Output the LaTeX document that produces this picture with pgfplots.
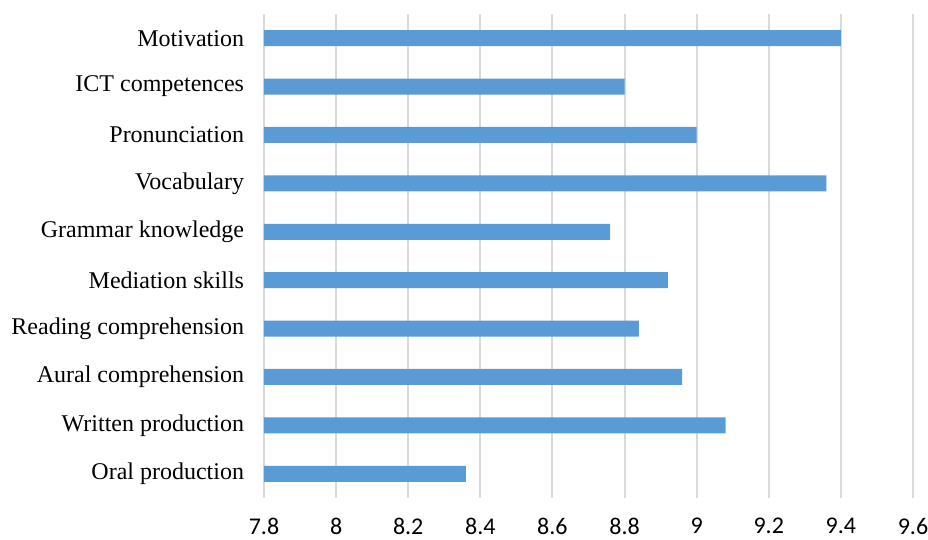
\documentclass[border=0pt]{standalone}
\usepackage{fontspec}
\setmainfont{Liberation Serif}
\newfontfamily\calibri{Carlito}
\usepackage{pgfplots}
\pgfplotsset{compat=1.18}
\definecolor{barblue}{HTML}{5B9BD5}
\definecolor{gridgray}{HTML}{D9D9D9}
\begin{document}
\begin{tikzpicture}
\useasboundingbox (-132pt,-21pt) rectangle (332pt,249pt);
\begin{axis}[
    at={(0,0)}, anchor=south west,
    scale only axis,
    width=324.5pt, height=242pt,
    xbar, bar width=8pt,
    xmin=7.8, xmax=9.6,
    ymin=-0.5, ymax=9.5,
    xtick={7.8,8,8.2,8.4,8.6,8.8,9,9.2,9.4,9.6},
    ytick={0,...,9},
    yticklabels={Oral production, Written production, Aural comprehension,
        Reading comprehension, Mediation skills, Grammar knowledge,
        Vocabulary, Pronunciation, ICT competences, Motivation},
    xmajorgrids,
    grid style={gridgray, line width=1pt},
    axis line style={draw=none},
    major tick style={draw=none},
    /pgf/number format/assume math mode=true,
    xticklabel style={font=\calibri\fontsize{12}{14}\selectfont, inner sep=0pt, yshift=-9.7pt},
    yticklabel style={font=\fontsize{12}{14}\selectfont, inner sep=0pt, xshift=-5.5pt},
]
\addplot[draw=none, fill=barblue] coordinates {
    (8.36,0) (9.08,1) (8.96,2) (8.84,3) (8.92,4)
    (8.76,5) (9.36,6) (9.0,7) (8.8,8) (9.4,9)
};
\end{axis}
\end{tikzpicture}
\end{document}
